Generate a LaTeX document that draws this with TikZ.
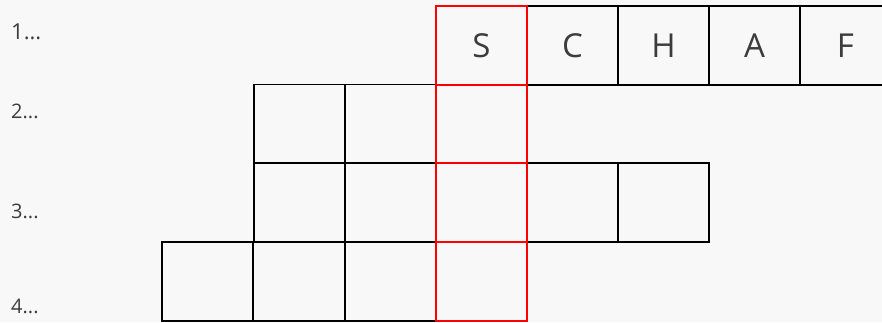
\documentclass[tikz,border=0pt]{standalone}
\usepackage{fontspec}
\setmainfont{Open Sans}
\definecolor{bgc}{HTML}{F8F8F8}
\definecolor{txt}{HTML}{3C3C3C}
\definecolor{redc}{HTML}{FF0000}
\begin{document}
\begin{tikzpicture}[x=1pt,y=-1pt,
  cell/.style={draw=black,line width=1.4pt,minimum width=91pt,minimum height=79pt,inner sep=0pt,outer sep=0pt,anchor=center,text=txt,font=\fontsize{33}{35}\selectfont},
  redcell/.style={cell,draw=redc},
  lab/.style={anchor=west,inner sep=0pt,text=txt,font=\fontsize{20}{22}\selectfont}]
\useasboundingbox (0,0) rectangle (882,322);
\fill[bgc] (0,0) rectangle (882,322);
\clip (0,0) rectangle (882,322);
% labels
\node[lab,font=\fontsize{22}{24}\selectfont] (l1) at (11,32) {1...};
\node[lab] (l2) at (11,111) {2...};
\node[lab] (l3) at (11,211) {3...};
\node[lab] (l4) at (11,306) {4...};
% row 1
\node[cell] (c1b) at (572.5,45.5) {C};
\node[cell] (c1c) at (663.5,45.5) {H};
\node[cell] (c1d) at (754.5,45.5) {A};
\node[cell] (c1e) at (845.5,45.5) {F};
% row 2
\node[cell] (c2a) at (299.5,124) {};
\node[cell] (c2b) at (390.5,124) {};
% row 3
\node[cell] (c3a) at (299.5,202.5) {};
\node[cell] (c3b) at (390.5,202.5) {};
\node[cell] (c3d) at (572.5,202.5) {};
\node[cell] (c3e) at (663.5,202.5) {};
% row 4
\node[cell] (c4a) at (207.5,281.5) {};
\node[cell] (c4b) at (299,281.5) {};
\node[cell] (c4c) at (390.5,281.5) {};
% red column
\node[redcell] (r1) at (481.5,45.5) {S};
\node[redcell] (r2) at (481.5,124) {};
\node[redcell] (r3) at (481.5,202.5) {};
\node[redcell] (r4) at (481.5,281.5) {};
\end{tikzpicture}
\end{document}
